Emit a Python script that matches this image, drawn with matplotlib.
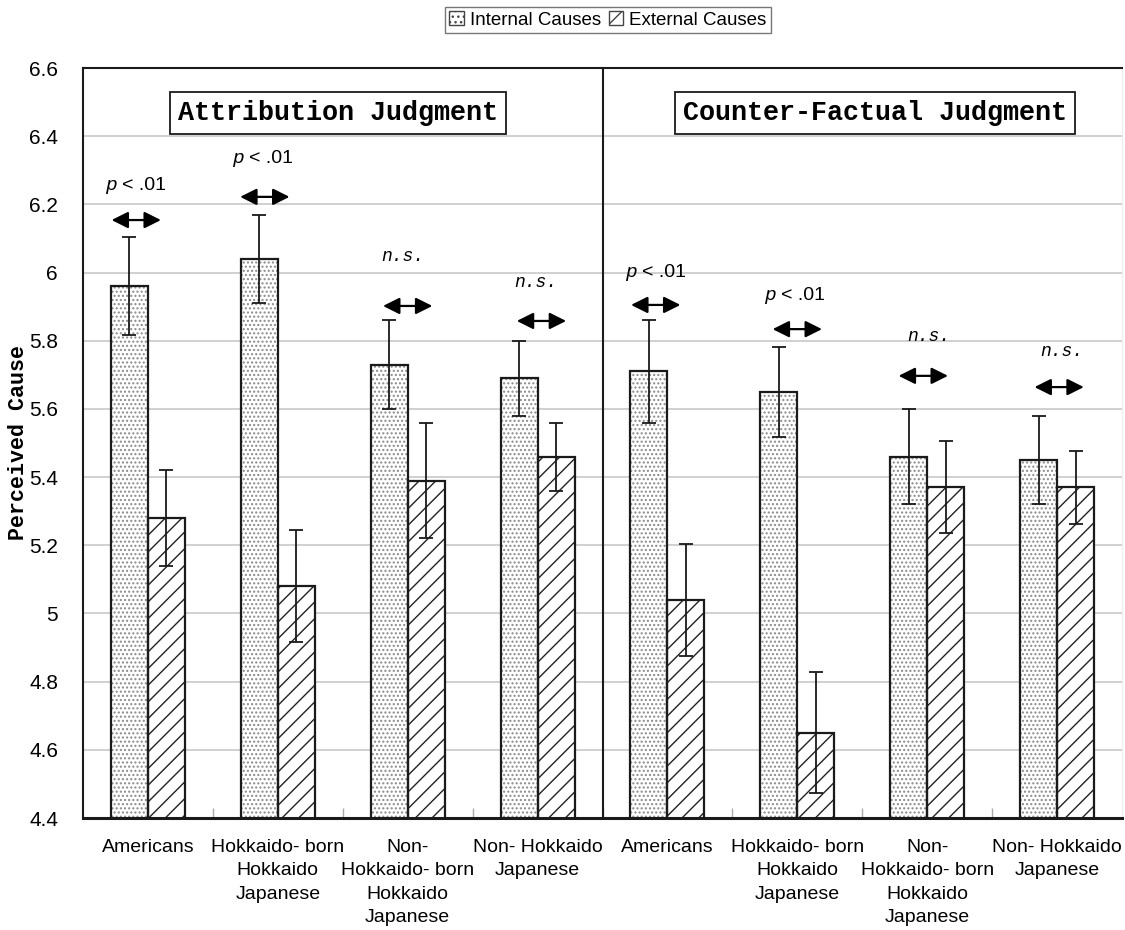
import matplotlib
matplotlib.use("Agg")
import matplotlib.pyplot as plt
from matplotlib.patches import Patch
import numpy as np

plt.rcParams['font.family'] = ['Liberation Sans', 'DejaVu Sans']
plt.rcParams['hatch.linewidth'] = 1.0

# ---------------- data ----------------
categories = ["Americans", "Hokkaido- born\nHokkaido\nJapanese",
              "Non-\nHokkaido- born\nHokkaido\nJapanese", "Non- Hokkaido\nJapanese",
              "Americans", "Hokkaido- born\nHokkaido\nJapanese",
              "Non-\nHokkaido- born\nHokkaido\nJapanese", "Non- Hokkaido\nJapanese"]
internal = [5.96, 6.04, 5.73, 5.69, 5.71, 5.65, 5.46, 5.45]
internal_err = [0.143, 0.13, 0.13, 0.11, 0.15, 0.133, 0.14, 0.13]
external = [5.28, 5.08, 5.39, 5.46, 5.04, 4.65, 5.37, 5.37]
external_err = [0.14, 0.165, 0.17, 0.10, 0.165, 0.178, 0.135, 0.107]
sig_labels = ["p", "p", "n.s.", "n.s.", "p", "p", "n.s.", "n.s."]
label_y = [6.254, 6.336, 6.048, 5.972, 5.999, 5.934, 5.811, 5.767]
arrow_y = [6.154, 6.222, 5.902, 5.858, 5.905, 5.834, 5.697, 5.664]
panel_titles = ["Attribution Judgment", "Counter-Factual Judgment"]
yticks = [4.4, 4.6, 4.8, 5.0, 5.2, 5.4, 5.6, 5.8, 6.0, 6.2, 6.4, 6.6]
ytick_labels = ["4.4", "4.6", "4.8", "5", "5.2", "5.4", "5.6", "5.8", "6", "6.2", "6.4", "6.6"]

# ---------------- layout ----------------
W, H = 1125, 930
fig = plt.figure(figsize=(W / 100, H / 100), dpi=100)
axw = 1122 - 83
ax = fig.add_axes([83 / W, (H - 818) / H, axw / W, (818 - 68) / H])

x = np.arange(len(categories))
bw = 0.285

# fills with hatch (gray pattern), then crisp black outline
ax.bar(x - bw / 2, internal, bw, color='white', edgecolor='#8a8a8a',
       hatch='....', linewidth=0, zorder=2)
ax.bar(x + bw / 2, external, bw, color='white', edgecolor='#222222',
       hatch='//', linewidth=0, zorder=2)
ax.bar(x - bw / 2, internal, bw, color='none', edgecolor='#1a1a1a', linewidth=1.6, zorder=3)
ax.bar(x + bw / 2, external, bw, color='none', edgecolor='#1a1a1a', linewidth=1.6, zorder=3)

ax.errorbar(x - bw / 2, internal, yerr=internal_err, fmt='none', ecolor='#1a1a1a',
            elinewidth=1.3, capsize=5, capthick=1.3, zorder=4)
ax.errorbar(x + bw / 2, external, yerr=external_err, fmt='none', ecolor='#1a1a1a',
            elinewidth=1.3, capsize=5, capthick=1.3, zorder=4)

ax.set_xlim(-0.5, len(categories) - 0.5)
ax.set_ylim(4.4, 6.6)
ax.set_yticks(yticks)
ax.set_yticklabels(ytick_labels, fontsize=15)
ax.tick_params(axis='y', length=0, pad=18)
ax.set_xticks(x)
ax.set_xticklabels(categories, fontsize=14, linespacing=1.5)
ax.tick_params(axis='x', length=0, pad=15)
ax.set_xticks(np.arange(len(categories) - 1) + 0.5, minor=True)
ax.tick_params(axis='x', which='minor', direction='in', length=7, color='#aaaaaa', width=1)

ax.yaxis.grid(True, color='#c8c8c8', linewidth=1.2, zorder=0)
ax.set_axisbelow(True)
for s in ['left', 'top', 'bottom']:
    ax.spines[s].set_color('#1a1a1a')
ax.spines['left'].set_linewidth(1.5)
ax.spines['top'].set_linewidth(1.5)
ax.spines['bottom'].set_linewidth(2.2)
ax.spines['right'].set_color('#eeeeee')

ax.axvline(3.5, color='#1a1a1a', linewidth=1.5, zorder=3)

ax.set_ylabel("Perceived Cause", fontsize=15.6, fontweight='bold',
              family=['Liberation Mono', 'DejaVu Sans'])
ax.yaxis.set_label_coords(-(83 - 19) / axw, 0.5)
ax.yaxis.label.set_va('center')

# panel titles
title_x = [1.465, 5.596]
for tx, t in zip(title_x, panel_titles):
    ax.text(tx, 6.468, t, ha='center', va='center', fontsize=19.3, fontweight='bold',
            family=['Liberation Mono', 'DejaVu Sans'], zorder=6,
            bbox=dict(boxstyle='square,pad=0.3', facecolor='white', edgecolor='#1a1a1a', linewidth=1.3))

# significance annotations
arrow_dx = [-0.09, -0.10, 0.0, 0.03, -0.09, 0.0, -0.03, 0.016]
text_dx = [-0.10, -0.126, -0.035, -0.01, -0.10, -0.03, 0.01, 0.04]
half = 0.19
for i in range(len(categories)):
    cx = x[i] + arrow_dx[i]
    ax.annotate('', xy=(cx - half, arrow_y[i]), xytext=(cx + half, arrow_y[i]),
                arrowprops=dict(arrowstyle='<|-|>,head_length=1.0,head_width=0.5',
                                color='black', lw=1.6, shrinkA=0, shrinkB=0), zorder=5)
    tx = x[i] + text_dx[i]
    if sig_labels[i] == 'p':
        ax.annotate('p', xy=(tx, label_y[i]), xytext=(-13, 0), textcoords='offset points',
                    ha='right', va='center', fontsize=14, style='italic',
                    family=['Liberation Mono', 'DejaVu Sans'])
        ax.annotate('< .01', xy=(tx, label_y[i]), xytext=(-9, 0), textcoords='offset points',
                    ha='left', va='center', fontsize=14)
    else:
        ax.text(tx, label_y[i], sig_labels[i], ha='center', va='center', fontsize=13,
                style='italic', family=['Liberation Mono', 'DejaVu Sans'])

# legend
handles = [Patch(facecolor='white', edgecolor='#444444', hatch='...', label='Internal Causes'),
           Patch(facecolor='white', edgecolor='#444444', hatch='//', label='External Causes')]
leg = fig.legend(handles=handles, loc='center', bbox_to_anchor=(608 / W, 1 - 20 / H), ncol=2,
                 fontsize=13.5, frameon=True, fancybox=False, handlelength=0.75, handleheight=0.75,
                 handletextpad=0.35, columnspacing=0.4, borderpad=0.25, borderaxespad=0)
leg.get_frame().set_edgecolor('#555555')
leg.get_frame().set_linewidth(1.0)

fig.savefig('out.png', dpi=100)
